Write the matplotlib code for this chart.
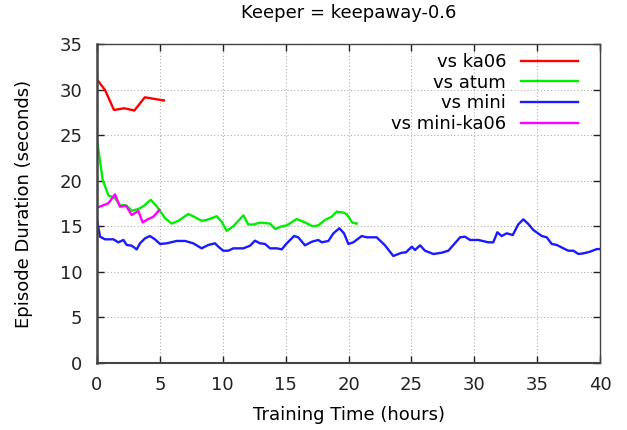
import matplotlib
matplotlib.use("Agg")
import matplotlib.pyplot as plt

plt.rcParams['font.family'] = ['DejaVu Sans']

ka06_t = [0, 0.64, 1.35, 2.17, 2.97, 3.8, 5.33]
ka06_v = [31.1, 29.95, 27.76, 27.95, 27.7, 29.15, 28.8]

atum_t = [0, 0.45, 0.9, 1.43, 1.83, 2.31, 2.76, 3.29, 3.69, 4.27, 4.74, 5.41, 5.94,
          6.47, 7.26, 7.79, 8.32, 8.72, 9.52, 9.91, 10.31, 10.84, 11.64, 12.03, 12.43,
          12.96, 13.76, 14.16, 14.69, 15.09, 15.88, 16.41, 17.15, 17.6, 18.13, 18.66,
          19.06, 19.59, 19.85, 20.3, 20.65]
atum_v = [24.5, 20.1, 18.4, 18.1, 17.3, 17.3, 16.7, 16.9, 17.2, 17.9, 17.2, 15.9, 15.3,
          15.6, 16.35, 16.0, 15.6, 15.7, 16.1, 15.5, 14.5, 15.0, 16.2, 15.2, 15.2,
          15.4, 15.3, 14.7, 15.0, 15.1, 15.8, 15.5, 15.0, 15.1, 15.7, 16.05,
          16.6, 16.5, 16.35, 15.4, 15.3]

mini_t = [0, 0.24, 0.64, 1.3, 1.7, 2.1, 2.36, 2.76, 3.16, 3.42, 3.82, 4.21, 4.61, 5.01,
          5.54, 6.34, 7.0, 7.66, 8.32, 8.85, 9.38, 9.65, 10.04, 10.44, 10.84, 11.64,
          12.17, 12.56, 12.96, 13.36, 13.76, 14.29, 14.69, 15.09, 15.67, 16.0, 16.54,
          17.07, 17.6, 17.87, 18.4, 18.8, 19.27, 19.64, 19.99, 20.38, 21.05, 21.45,
          22.24, 22.9, 23.56, 24.23, 24.57, 25.03, 25.29, 25.69, 26.08, 26.75, 27.41,
          27.94, 28.34, 28.87, 29.26, 29.66, 30.32, 31.12, 31.51, 31.83, 32.18, 32.58,
          33.06, 33.5, 33.9, 34.3, 34.7, 35.37, 35.76, 36.16, 36.56, 37.09, 37.48,
          37.88, 38.28, 38.67, 39.2, 39.74, 40.0]
mini_v = [15.69, 13.86, 13.57, 13.57, 13.24, 13.5, 12.95, 12.87, 12.47, 13.13, 13.68,
          13.93, 13.57, 13.06, 13.13, 13.39, 13.39, 13.13, 12.58, 12.95, 13.13, 12.76,
          12.32, 12.32, 12.58, 12.58, 12.87, 13.42, 13.13, 13.06, 12.58, 12.58, 12.47,
          13.13, 13.93, 13.79, 12.91, 13.3, 13.5, 13.24, 13.39, 14.23, 14.78, 14.23,
          13.06, 13.24, 13.93, 13.79, 13.79, 12.91, 11.74, 12.1, 12.14, 12.76, 12.4,
          12.91, 12.32, 11.96, 12.1, 12.32, 12.95, 13.79, 13.86, 13.5, 13.5, 13.24,
          13.24, 14.34, 13.93, 14.23, 14.04, 15.21, 15.76, 15.25, 14.59, 13.93, 13.79,
          13.06, 12.95, 12.58, 12.32, 12.32, 11.96, 12.03, 12.21, 12.5, 12.5]

minika06_t = [0, 0.9, 1.43, 1.83, 2.31, 2.76, 3.29, 3.63, 4.08, 4.48, 4.96]
minika06_v = [17.04, 17.52, 18.5, 17.15, 17.26, 16.24, 16.68, 15.43, 15.8, 16.05, 16.79]

xticks = [0, 5, 10, 15, 20, 25, 30, 35, 40]
yticks = [0, 5, 10, 15, 20, 25, 30, 35]

fig = plt.figure(figsize=(6.27, 4.30), dpi=100)
ax = fig.add_axes([0.1547, 0.1558, 0.957 - 0.1547, 0.8977 - 0.1558])

lw = 1.7
ax.plot(ka06_t, ka06_v, color='#ff0000', lw=lw, label='vs ka06')
ax.plot(atum_t, atum_v, color='#00ee00', lw=lw, label='vs atum')
ax.plot(mini_t, mini_v, color='#1a1aff', lw=lw, label='vs mini')
ax.plot(minika06_t, minika06_v, color='#ff00ff', lw=lw, label='vs mini-ka06')

ax.set_xlim(0, 40)
ax.set_ylim(0, 35)
ax.set_xticks(xticks)
ax.set_yticks(yticks)
ax.grid(True, color='#b0b0b0', linestyle=(0, (1, 2)), linewidth=0.8)
ax.tick_params(direction='in', top=True, right=True, length=5, width=1,
               labelsize=13, colors='#222222')
ax.tick_params(axis='y', pad=10.5)
ax.tick_params(axis='x', pad=9)
for s in ax.spines.values():
    s.set_color('#444444')
    s.set_linewidth(1.0)
ax.spines['left'].set_linewidth(1.8)
ax.spines['bottom'].set_linewidth(1.5)

ax.set_xlabel('Training Time (hours)', fontsize=13, labelpad=9)
ax.set_ylabel('Episode Duration (seconds)', fontsize=13, labelpad=19)
ax.set_title('Keeper = keepaway-0.6', fontsize=13, pad=19)

leg = ax.legend(loc='upper right', frameon=False, markerfirst=False, fontsize=13,
                handlelength=3.2, labelspacing=0.15, borderaxespad=0.1,
                bbox_to_anchor=(0.975, 1.0))
for t in leg.get_texts():
    t.set_ha('right')

fig.savefig('out.png', dpi=100)
